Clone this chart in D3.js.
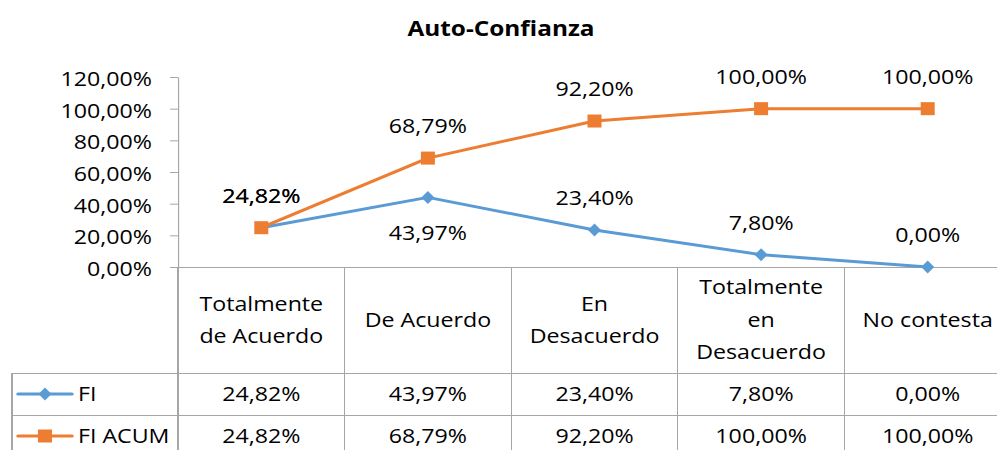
<!DOCTYPE html>
<html>
<head>
<meta charset="utf-8">
<script src="https://cdn.jsdelivr.net/npm/d3@7"></script>
<style>
  body { margin: 0; background: #fff; }
  svg { display: block; }
  text { font-family: "Open Sans", sans-serif; fill: #000; }
</style>
</head>
<body>
<div id="chart"></div>
<script>
// data
const title = "Auto-Confianza";
const categories = ["Totalmente de Acuerdo", "De Acuerdo", "En Desacuerdo", "Totalmente en Desacuerdo", "No contesta"];
const categoryLines = [["Totalmente", "de Acuerdo"], ["De Acuerdo"], ["En", "Desacuerdo"], ["Totalmente", "en", "Desacuerdo"], ["No contesta"]];
const seriesNames = ["FI", "FI ACUM"];
const fiValues = [0.2482, 0.4397, 0.2340, 0.0780, 0.0000];
const fiAcumValues = [0.2482, 0.6879, 0.9220, 1.0000, 1.0000];
const yTicks = [0, 0.2, 0.4, 0.6, 0.8, 1.0, 1.2];

//#region layout
const width = 997, height = 450;
const K = 1.16; // the original picture is stretched horizontally
const X = v => v / K;
const plot = { left: 178, right: 1011, top: 77, bottom: 267 };
const rows = { top: 267, fi: 373, acum: 415, end: 460 };
const tableLeft = 12;
const grid = "#a6a6a6";
const blue = "#5b9bd5", orange = "#ed7d31";
//#endregion

const svg = d3.select("#chart").append("svg")
  .attr("width", width)
  .attr("height", height)
  .attr("viewBox", `0 0 ${X(width)} ${height}`)
  .attr("preserveAspectRatio", "none");

const x = d3.scaleBand().domain(categories).range([X(plot.left), X(plot.right)]);
const cx = c => x(c) + x.bandwidth() / 2;
const y = d3.scaleLinear().domain([0, 1.2]).range([plot.bottom, plot.top]);

const locale = d3.formatLocale({ decimal: ",", thousands: ".", grouping: [3], currency: ["", "€"] });
const pct = locale.format(".2%");

// title
svg.append("text")
  .attr("x", X(501))
  .attr("y", 36)
  .attr("text-anchor", "middle")
  .attr("font-size", 21)
  .attr("font-weight", "bold")
  .text(title);

//#region y axis
const yAxis = svg.append("g")
  .attr("transform", `translate(${X(plot.left)},0)`)
  .call(d3.axisLeft(y).tickValues(yTicks).tickFormat(pct)
    .tickSize(X(8)).tickSizeOuter(0).tickPadding(X(18)));
yAxis.attr("font-size", 20);
yAxis.select(".domain").attr("stroke", grid);
yAxis.selectAll(".tick line").attr("stroke", grid);
yAxis.selectAll(".tick text").attr("dy", 8.5);
//#endregion

//#region data table
const table = svg.append("g").attr("stroke", grid).attr("shape-rendering", "crispEdges");
table.append("line")
  .attr("x1", X(plot.left)).attr("x2", X(plot.right))
  .attr("y1", rows.top).attr("y2", rows.top);
[rows.fi, rows.acum].forEach(r => {
  table.append("line")
    .attr("x1", X(tableLeft)).attr("x2", X(plot.right))
    .attr("y1", r).attr("y2", r);
});
table.append("line")
  .attr("x1", X(tableLeft)).attr("x2", X(tableLeft))
  .attr("y1", rows.fi).attr("y2", rows.end);
const colEdges = categories.map(c => x(c)).concat([X(plot.right)]);
table.selectAll(".col")
  .data(colEdges)
  .enter()
  .append("line")
  .attr("class", "col")
  .attr("x1", d => d).attr("x2", d => d)
  .attr("y1", plot.bottom).attr("y2", rows.end);

// category headers
const headerMid = (rows.top + rows.fi) / 2 + 7;
categories.forEach((c, i) => {
  const lines = categoryLines[i];
  svg.append("g").selectAll("text")
    .data(lines)
    .enter()
    .append("text")
    .attr("x", cx(c))
    .attr("y", (d, j) => headerMid + (j - (lines.length - 1) / 2) * 32.5)
    .attr("text-anchor", "middle")
    .attr("font-size", 20)
    .text(d => d);
});

// value rows
[[fiValues, 401.5], [fiAcumValues, 443]].forEach(([vals, base]) => {
  svg.append("g").selectAll("text")
    .data(vals)
    .enter()
    .append("text")
    .attr("x", (d, i) => cx(categories[i]))
    .attr("y", base)
    .attr("text-anchor", "middle")
    .attr("font-size", 20)
    .text(d => pct(d));
});
//#endregion

//#region markers
const diamond = (g, color) => g.append("path")
  .attr("d", `M0,-6.5L${X(6.5)},0L0,6.5L${-X(6.5)},0Z`)
  .attr("fill", color);
const square = (g, color) => g.append("rect")
  .attr("x", -X(7)).attr("y", -6.5)
  .attr("width", X(14)).attr("height", 13)
  .attr("fill", color);
//#endregion

//#region legend keys in table
const legendRows = [
  { name: seriesNames[0], color: blue, marker: diamond, yLine: 394, yText: 401.5 },
  { name: seriesNames[1], color: orange, marker: square, yLine: 436, yText: 443 }
];
legendRows.forEach(l => {
  svg.append("line")
    .attr("x1", X(18)).attr("x2", X(72))
    .attr("y1", l.yLine).attr("y2", l.yLine)
    .attr("stroke", l.color)
    .attr("stroke-width", 3)
    .attr("stroke-linecap", "round");
  l.marker(svg.append("g").attr("transform", `translate(${X(45)},${l.yLine})`), l.color);
  svg.append("text")
    .attr("x", X(78))
    .attr("y", l.yText)
    .attr("font-size", 20)
    .text(l.name);
});
//#endregion

//#region lines
const line = d3.line()
  .x((d, i) => cx(categories[i]))
  .y(d => y(d));

const series = [
  { values: fiValues, color: blue, marker: diamond },
  { values: fiAcumValues, color: orange, marker: square }
];
series.forEach(s => {
  svg.append("path")
    .datum(s.values)
    .attr("d", line)
    .attr("fill", "none")
    .attr("stroke", s.color)
    .attr("stroke-width", 3)
    .attr("stroke-linejoin", "round");
  s.values.forEach((v, i) => {
    s.marker(svg.append("g").attr("transform", `translate(${cx(categories[i])},${y(v)})`), s.color);
  });
});
//#endregion

//#region data labels
// FI label of "De Acuerdo" sits below its point, the rest above
const labelOffset = (si, i) => (si === 0 && i === 1 ? 43 : -25);
series.forEach((s, si) => {
  svg.append("g").selectAll("text")
    .data(s.values)
    .enter()
    .append("text")
    .attr("x", (d, i) => cx(categories[i]))
    .attr("y", (d, i) => y(d) + labelOffset(si, i))
    .attr("text-anchor", "middle")
    .attr("font-size", 20)
    .text(d => pct(d));
});
//#endregion
</script>
</body>
</html>
